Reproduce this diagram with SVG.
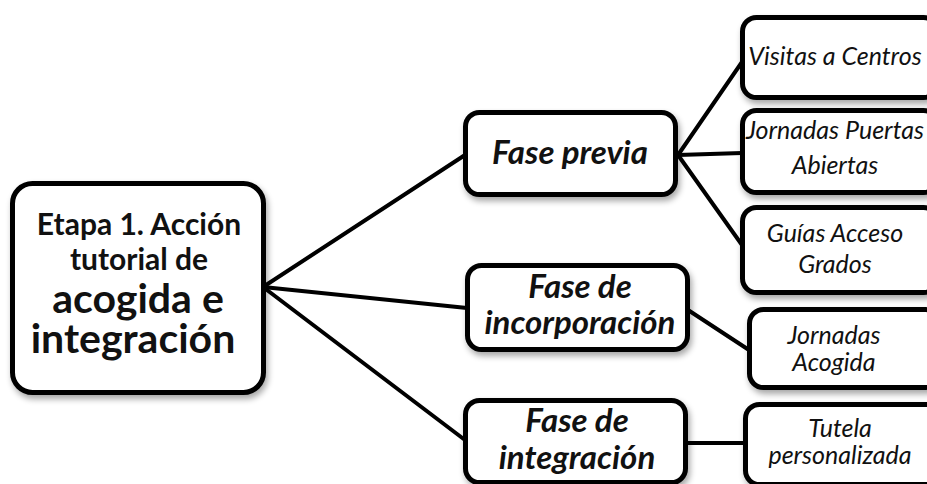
<svg xmlns="http://www.w3.org/2000/svg" width="927" height="484" viewBox="0 0 927 484">
<defs>
<filter id="sh" x="-10%" y="-10%" width="130%" height="140%">
<feGaussianBlur in="SourceAlpha" stdDeviation="3"/>
<feOffset dx="2" dy="4" result="b"/>
<feComponentTransfer><feFuncA type="linear" slope="0.35"/></feComponentTransfer>
<feMerge><feMergeNode/><feMergeNode in="SourceGraphic"/></feMerge>
</filter>
</defs>
<style>
.box{fill:#fff;stroke:#000;stroke-width:5;filter:url(#sh)}
.ln{stroke:#000;stroke-width:4;fill:none;stroke-linecap:round}
text{font-family:Lato,"Open Sans","Liberation Sans",sans-serif;fill:#111;text-anchor:middle}
.main{font-weight:bold}
.mid{font-weight:bold;font-style:italic;font-size:33px}
.leaf{font-style:italic;font-size:25px}
</style>
<rect width="927" height="484" fill="#fff"/>
<g id="connectors">
<line class="ln" x1="263" y1="287" x2="465" y2="155"/>
<line class="ln" x1="263" y1="287" x2="467" y2="308"/>
<line class="ln" x1="263" y1="287" x2="465" y2="440"/>
<line class="ln" x1="678" y1="155" x2="742" y2="62"/>
<line class="ln" x1="678" y1="155" x2="742" y2="153"/>
<line class="ln" x1="678" y1="155" x2="742" y2="245"/>
<line class="ln" x1="688" y1="310" x2="749" y2="350"/>
<line class="ln" x1="688" y1="443" x2="745" y2="443"/>
</g>
<g id="etapa1">
<rect class="box" x="12.5" y="183.5" width="251" height="209" rx="20"/>
<text class="main" x="139" y="235" font-size="30">Etapa 1. Acción</text>
<text class="main" x="139" y="270" font-size="30">tutorial de</text>
<text class="main" x="138" y="313" font-size="41">acogida e</text>
<text class="main" x="133" y="353" font-size="41">integración</text>
</g>
<g id="fase-previa">
<rect class="box" x="465.5" y="112.5" width="210" height="82" rx="14"/>
<text class="mid" x="570" y="164">Fase previa</text>
</g>
<g id="fase-incorporacion">
<rect class="box" x="467.5" y="265.5" width="220" height="84" rx="14"/>
<text class="mid" x="580" y="298">Fase de</text>
<text class="mid" x="580" y="334">incorporación</text>
</g>
<g id="fase-integracion">
<rect class="box" x="465.5" y="400.5" width="220" height="82" rx="14"/>
<text class="mid" x="577" y="432">Fase de</text>
<text class="mid" x="577" y="469">integración</text>
</g>
<g id="visitas">
<rect class="box" x="742.5" y="17.5" width="195" height="80" rx="14"/>
<text class="leaf" x="835" y="65">Visitas a Centros</text>
</g>
<g id="jornadas-puertas">
<rect class="box" x="742.5" y="110.5" width="195" height="82" rx="14"/>
<text class="leaf" x="835" y="139">Jornadas Puertas</text>
<text class="leaf" x="835" y="174">Abiertas</text>
</g>
<g id="guias">
<rect class="box" x="742.5" y="207.5" width="195" height="85" rx="14"/>
<text class="leaf" x="835" y="242">Guías Acceso</text>
<text class="leaf" x="835" y="273">Grados</text>
</g>
<g id="jornadas-acogida">
<rect class="box" x="749.5" y="309.5" width="190" height="78" rx="14"/>
<text class="leaf" x="834" y="344" font-size="26">Jornadas</text>
<text class="leaf" x="834" y="371" font-size="26">Acogida</text>
</g>
<g id="tutela">
<rect class="box" x="745.5" y="404.5" width="195" height="80" rx="14"/>
<text class="leaf" x="840" y="437">Tutela</text>
<text class="leaf" x="840" y="464">personalizada</text>
</g>
</svg>
